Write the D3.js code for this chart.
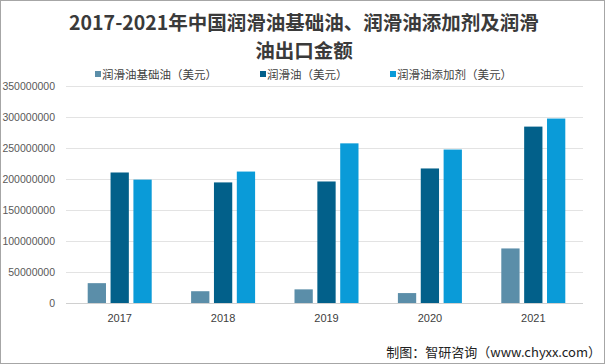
<!DOCTYPE html>
<html>
<head>
<meta charset="utf-8">
<script src="https://cdn.jsdelivr.net/npm/d3@7"></script>
<style>
  body { margin: 0; background: #fff; }
  svg { display: block; font-family: "Noto Sans CJK SC", "Microsoft YaHei", sans-serif; }
</style>
</head>
<body>
<div id="chart"></div>
<script>
const years = ["2017", "2018", "2019", "2020", "2021"];
const seriesNames = ["润滑油基础油（美元）", "润滑油（美元）", "润滑油添加剂（美元）"];
const baseOil = [32000000, 19000000, 22000000, 16000000, 88000000];
const lubeOil = [210500000, 194500000, 196000000, 217000000, 284500000];
const additive = [199000000, 212000000, 257500000, 247500000, 297500000];
const yTicks = [0, 50000000, 100000000, 150000000, 200000000, 250000000, 300000000, 350000000];
const colors = ["#5b8ea9", "#02608a", "#0a9bd8"];

const width = 605, height = 364;
const margin = { top: 86, right: 22, bottom: 61, left: 66 };

const svg = d3.select("#chart").append("svg")
    .attr("width", width)
    .attr("height", height);

svg.append("rect")
    .attr("x", 0.5).attr("y", 0.5)
    .attr("width", width - 1).attr("height", height - 1)
    .attr("fill", "#fff")
    .attr("stroke", "#a6a6a6");

// title, two lines
svg.append("text")
    .attr("x", 304).attr("y", 29.5)
    .attr("text-anchor", "middle")
    .attr("font-size", 19.5).attr("font-weight", "bold")
    .attr("fill", "#3a3a3a")
    .text("2017-2021年中国润滑油基础油、润滑油添加剂及润滑");
svg.append("text")
    .attr("x", 304).attr("y", 57.5)
    .attr("text-anchor", "middle")
    .attr("font-size", 19.5).attr("font-weight", "bold")
    .attr("fill", "#3a3a3a")
    .text("油出口金额");

// legend
const legendX = [95, 260, 390];
const legend = svg.append("g");
seriesNames.forEach((name, i) => {
    legend.append("rect")
        .attr("x", legendX[i]).attr("y", 71)
        .attr("width", 6).attr("height", 6)
        .attr("fill", colors[i]);
    legend.append("text")
        .attr("x", legendX[i] + 7).attr("y", 79)
        .attr("font-size", 11.5)
        .attr("fill", "#404040")
        .text(name);
});

const plotW = width - margin.left - margin.right;
const plotH = height - margin.top - margin.bottom;

const x = d3.scaleBand().domain(years).range([margin.left, margin.left + plotW]).paddingInner(0).paddingOuter(0);
const inner = d3.scaleBand().domain([0, 1, 2]).range([0, 64]).paddingInner(0.2);
const y = d3.scaleLinear().domain([0, 350000000]).range([margin.top + plotH, margin.top]);

// gridlines
svg.append("g")
    .selectAll("line")
    .data(yTicks)
    .join("line")
    .attr("x1", margin.left).attr("x2", margin.left + plotW)
    .attr("y1", d => Math.round(y(d)) + 0.5).attr("y2", d => Math.round(y(d)) + 0.5)
    .attr("stroke", d => d === 0 ? "#d0d0d0" : "#e3e3e3");

// y axis labels
const yAxis = svg.append("g")
    .attr("transform", `translate(${margin.left - 8},0)`)
    .call(d3.axisLeft(y).tickValues(yTicks).tickSize(0).tickFormat(d3.format("d")));
yAxis.select(".domain").remove();
yAxis.selectAll("text")
    .attr("font-size", 10.5)
    .attr("fill", "#595959")
    .attr("font-family", "Liberation Sans, Arial, sans-serif");

// x axis labels
const xAxis = svg.append("g")
    .attr("transform", `translate(2,${margin.top + plotH + 8})`)
    .call(d3.axisBottom(x).tickSize(0));
xAxis.select(".domain").remove();
xAxis.selectAll("text")
    .attr("font-size", 11)
    .attr("fill", "#404040")
    .attr("font-family", "Liberation Sans, Arial, sans-serif");

// bars
const allSeries = [baseOil, lubeOil, additive];
allSeries.forEach((vals, si) => {
    svg.append("g")
        .selectAll("rect")
        .data(vals)
        .join("rect")
        .attr("x", (d, i) => x(years[i]) + x.bandwidth() / 2 - 30 + inner(si))
        .attr("y", d => y(d))
        .attr("width", inner.bandwidth())
        .attr("height", d => y(0) - y(d))
        .attr("fill", colors[si]);
});

// source
svg.append("text")
    .attr("x", 601).attr("y", 357)
    .attr("text-anchor", "end")
    .attr("font-size", 13)
    .attr("fill", "#222")
    .text("制图：智研咨询（www.chyxx.com）");
</script>
</body>
</html>
